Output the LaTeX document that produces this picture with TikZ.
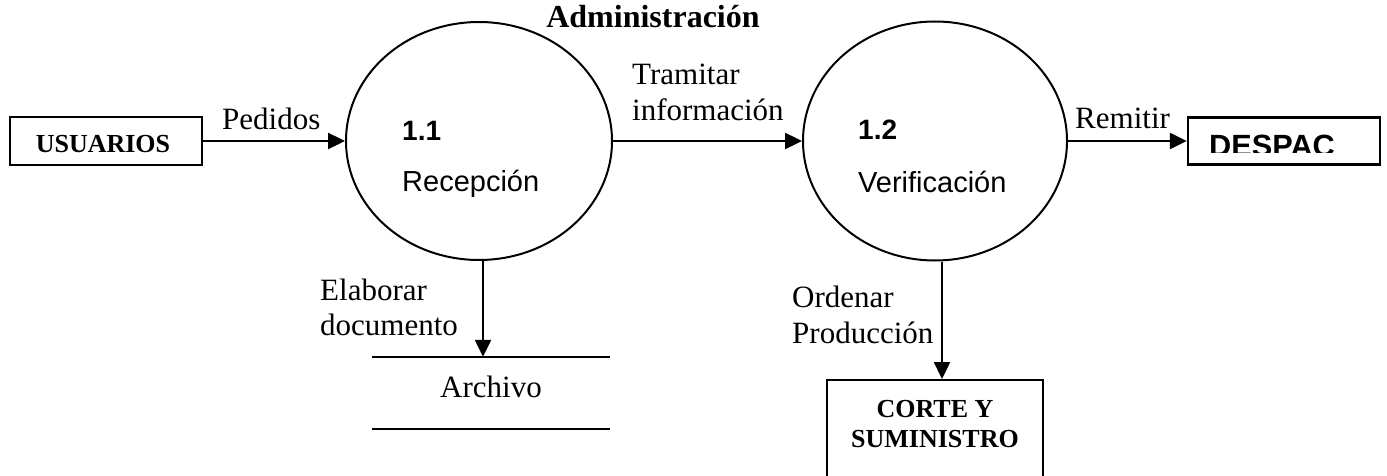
\documentclass[tikz,border=0pt]{standalone}
\usepackage{fontspec}
\setmainfont{Liberation Serif}
\setsansfont{Liberation Sans}
\usetikzlibrary{arrows.meta,shapes.geometric}
\tikzset{
  flow/.style={line width=2.4pt,-{Triangle[length=17pt,width=16pt]}},
  proc/.style={draw,ellipse,line width=2pt,minimum width=266pt,minimum height=238pt,inner sep=0pt},
  ent/.style={draw,rectangle,line width=2.4pt,inner sep=0pt},
  lbl/.style={font=\fontsize{31}{37}\selectfont,inner sep=0pt,anchor=base west},
  ptext/.style={font=\sffamily\fontsize{29}{34}\selectfont,inner sep=0pt,anchor=base west},
  pnum/.style={font=\sffamily\bfseries\fontsize{28}{34}\selectfont,inner sep=0pt,anchor=base west},
  etext/.style={font=\bfseries\fontsize{26}{30}\selectfont,inner sep=0pt,anchor=base},
}
\begin{document}
\begin{tikzpicture}[x=1pt,y=-1pt]
\useasboundingbox (0,0) rectangle (1387,476);
\clip (0,0) rectangle (1387,476);
% entities
\node[ent,minimum width=192pt,minimum height=48pt] (usu) at (106,141) {};
\node[etext] (usut) at (103,153) {USUARIOS};
\node[ent,minimum width=192pt,minimum height=47pt] (desp) at (1284,141) {};
\begin{scope}
  \clip (1188,117) rectangle (1380,153);
  \node[font=\sffamily\bfseries\fontsize{30.7}{36}\selectfont,inner sep=0pt,anchor=base west] (despt) at (1209,157) {DESPAC};
\end{scope}
\node[ent,minimum width=216pt,minimum height=110pt,anchor=north] (cort) at (935,379) {};
\node[etext] (cort1) at (935,417) {CORTE Y};
\node[etext] (cort2) at (935,447) {SUMINISTRO};
% processes
\node[proc] (p1) at (479,141) {};
\node[pnum] (p1n) at (402,141) {1.1};
\node[ptext] (p1t) at (402,191) {Recepción};
\node[proc,minimum width=264pt,minimum height=239pt] (p2) at (935,141) {};
\node[pnum] (p2n) at (858,140) {1.2};
\node[ptext] (p2t) at (858,192) {Verificación};
% title
\node[font=\bfseries\fontsize{32}{38}\selectfont,inner sep=0pt,anchor=base] (tit) at (653,28) {Administración};
% data store
\node[minimum width=238pt,minimum height=72pt,inner sep=0pt,text height=12pt,text depth=4pt,font=\fontsize{31}{37}\selectfont] (arch) at (491,393) {Archivo};
\draw[line width=2.2pt] (arch.north west) -- (arch.north east);
\draw[line width=2.2pt] (arch.south west) -- (arch.south east);
% flows
\draw[flow] (usu.east) -- (p1.west);
\node[lbl] (l1) at (222,130) {Pedidos};
\draw[flow] (p1.east) -- (p2.west);
\node[lbl] (l2a) at (632,85) {Tramitar};
\node[lbl] (l2b) at (632,121) {información};
\draw[flow] (p2.east) -- (desp.west);
\node[lbl] (l3) at (1075,129) {Remitir};
\draw[flow] ([xshift=4pt]p1.south) -- ([xshift=4pt]p1.south |- arch.north);
\node[lbl] (l4a) at (320,300) {Elaborar};
\node[lbl] (l4b) at (320,335) {documento};
\draw[flow] ([xshift=7pt]p2.south) -- ([xshift=7pt]p2.south |- cort.north);
\node[lbl] (l5a) at (792,307) {Ordenar};
\node[lbl] (l5b) at (792,343) {Producción};
\end{tikzpicture}
\end{document}
